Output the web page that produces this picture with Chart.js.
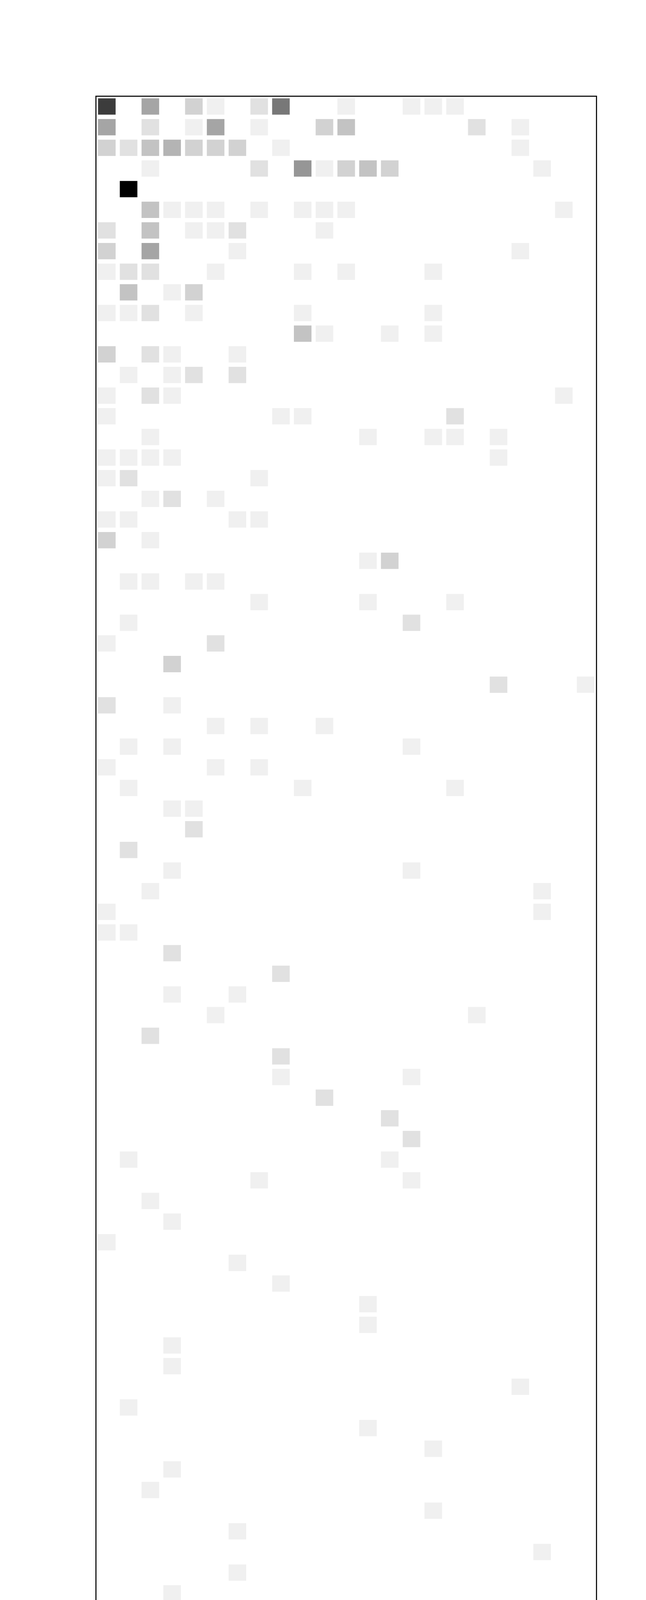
<!DOCTYPE html>
<html lang="en">
<head>
<meta charset="UTF-8">
<title>TP-020</title>
<script src="https://cdn.jsdelivr.net/npm/chart.js@4.4.1/dist/chart.umd.min.js"></script>
<style>
  html, body { margin: 0; padding: 0; background: #fff; }
  #wrap { width: 1653px; height: 6791px; }
</style>
</head>
<body>
<div id="wrap"><canvas id="chart" width="1653" height="6791"></canvas></div>
<script>
// 23 columns, 118 rows; each cell is [column, count], empty cells left out
const colLabels = ['1','2','3','4','5','6','7','8','9','10','11','12',
                   '13','14','15','16','17','18','19','20','21','22','23'];
const maxCount = 17;
const cells = [
  [[0,13],[2,6],[4,3],[5,1],[7,2],[8,9],[11,1],[14,1],[15,1],[16,1]],
  [[0,6],[2,2],[4,1],[5,6],[7,1],[10,3],[11,4],[17,2],[19,1]],
  [[0,3],[1,2],[2,4],[3,5],[4,3],[5,3],[6,3],[8,1],[19,1]],
  [[2,1],[7,2],[9,7],[10,1],[11,3],[12,4],[13,3],[20,1]],
  [[1,17]],
  [[2,4],[3,1],[4,1],[5,1],[7,1],[9,1],[10,1],[11,1],[21,1]],
  [[0,2],[2,4],[4,1],[5,1],[6,2],[10,1]],
  [[0,3],[2,6],[6,1],[19,1]],
  [[0,1],[1,2],[2,2],[5,1],[9,1],[11,1],[15,1]],
  [[1,4],[3,1],[4,3]],
  [[0,1],[1,1],[2,2],[4,1],[9,1],[15,1]],
  [[9,4],[10,1],[13,1],[15,1]],
  [[0,3],[2,2],[3,1],[6,1]],
  [[1,1],[3,1],[4,2],[6,2]],
  [[0,1],[2,2],[3,1],[21,1]],
  [[0,1],[8,1],[9,1],[16,2]],
  [[2,1],[12,1],[15,1],[16,1],[18,1]],
  [[0,1],[1,1],[2,1],[3,1],[18,1]],
  [[0,1],[1,2],[7,1]],
  [[2,1],[3,2],[5,1]],
  [[0,1],[1,1],[6,1],[7,1]],
  [[0,3],[2,1]],
  [[12,1],[13,3]],
  [[1,1],[2,1],[4,1],[5,1]],
  [[7,1],[12,1],[16,1]],
  [[1,1],[14,2]],
  [[0,1],[5,2]],
  [[3,3]],
  [[18,2],[22,1]],
  [[0,2],[3,1]],
  [[5,1],[7,1],[10,1]],
  [[1,1],[3,1],[14,1]],
  [[0,1],[5,1],[7,1]],
  [[1,1],[9,1],[16,1]],
  [[3,1],[4,1]],
  [[4,2]],
  [[1,2]],
  [[3,1],[14,1]],
  [[2,1],[20,1]],
  [[0,1],[20,1]],
  [[0,1],[1,1]],
  [[3,2]],
  [[8,2]],
  [[3,1],[6,1]],
  [[5,1],[17,1]],
  [[2,2]],
  [[8,2]],
  [[8,1],[14,1]],
  [[10,2]],
  [[13,2]],
  [[14,2]],
  [[1,1],[13,1]],
  [[7,1],[14,1]],
  [[2,1]],
  [[3,1]], [[0,1]], [[6,1]], [[8,1]], [[12,1]], [[12,1]], [[3,1]],
  [[3,1]], [[19,1]], [[1,1]], [[12,1]], [[15,1]], [[3,1]], [[2,1]],
  [[15,1]], [[6,1]], [[20,1]], [[6,1]], [[3,1]], [[17,1]], [[1,1]],
  [[6,1]], [[5,1]], [[0,1]], [[4,1]], [[3,1]], [[0,1]], [[11,1]],
  [[0,1]], [[1,1]], [[6,1]], [[3,1]], [[3,1]], [[0,1]], [[1,1]],
  [[6,1]], [[0,1]], [[10,1]], [[2,1]], [[18,1]], [[7,1]], [[0,1]],
  [[1,1]], [[1,1]], [[10,1]], [[1,1]], [[15,1]], [[7,1]], [[0,1]],
  [[3,1]], [[7,1]], [[17,1]], [[2,1]], [[2,1]], [[7,1]], [[3,1]],
  [[4,1]], [[0,1]], [[1,1]], [[1,1]], [[4,1]], [[17,1]], [[15,1]],
  [[7,1]]
];

const points = [];
const colors = [];
cells.forEach((row, r) => {
  row.forEach(([c, n]) => {
    points.push({ x: colLabels[c], y: [r - 0.395, r + 0.395] });
    const g = Math.round(255 * (1 - n / maxCount));
    colors.push('rgb(' + g + ',' + g + ',' + g + ')');
  });
});

// box round the plot area
const frame = {
  id: 'frame',
  afterDraw(chart) {
    const a = chart.chartArea;
    const ctx = chart.ctx;
    ctx.save();
    ctx.strokeStyle = '#000';
    ctx.lineWidth = 2.7;
    ctx.strokeRect(a.left, a.top, a.right - a.left, a.bottom - a.top);
    ctx.restore();
  }
};

new Chart(document.getElementById('chart'), {
  type: 'bar',
  data: {
    labels: colLabels,
    datasets: [{
      data: points,
      backgroundColor: colors,
      borderWidth: 0,
      borderSkipped: false,
      barPercentage: 0.808,
      categoryPercentage: 1
    }]
  },
  options: {
    responsive: false,
    animation: false,
    devicePixelRatio: 1,
    layout: { padding: { left: 245.5, right: 126.7, top: 246.3, bottom: 58 } },
    plugins: {
      legend: { display: false },
      tooltip: { enabled: false },
      title: {
        display: true,
        position: 'bottom',
        text: 'TP-020',
        color: '#000',
        font: { family: '"Liberation Sans", Arial, sans-serif', size: 50, weight: 'normal', lineHeight: 1.2 },
        padding: { top: 189, bottom: 0 }
      }
    },
    scales: {
      x: { type: 'category', display: false, offset: true },
      y: { type: 'linear', display: false, reverse: true, min: -0.5, max: cells.length - 0.5 }
    }
  },
  plugins: [frame]
});
</script>
</body>
</html>
